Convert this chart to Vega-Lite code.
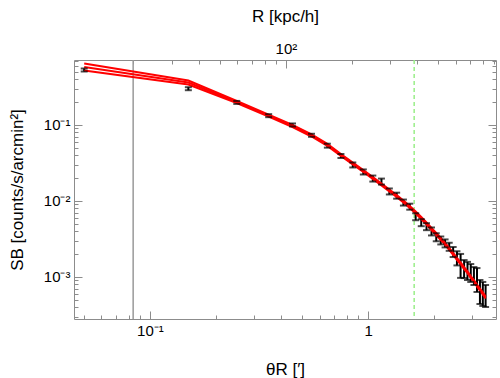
{
  "$schema": "https://vega.github.io/schema/vega-lite/v6.json",
  "width": 422,
  "height": 259,
  "autosize": {"type": "none"},
  "padding": {"left": 74, "top": 60, "right": 4, "bottom": 59},
  "background": "white",
  "config": {
    "view": {"stroke": "#8c8c8c", "strokeWidth": 1},
    "axis": {
      "domain": false,
      "grid": false,
      "tickColor": "#8c8c8c",
      "tickWidth": 1,
      "labelFont": "Liberation Sans",
      "labelFontSize": 15,
      "labelColor": "black",
      "labelOverlap": false,
      "labelFlush": false,
      "titleFont": "Liberation Sans",
      "titleFontSize": 17,
      "titleFontWeight": "normal",
      "titleColor": "black"
    }
  },
  "datasets": {
    "obs": [
      {"t": 0.05, "sb": 0.529, "lo": 0.5055, "hi": 0.5536},
      {"t": 0.15, "sb": 0.300, "lo": 0.2867, "hi": 0.3140},
      {"t": 0.25, "sb": 0.198, "lo": 0.1892, "hi": 0.2072},
      {"t": 0.35, "sb": 0.1326, "lo": 0.1267, "hi": 0.1388},
      {"t": 0.45, "sb": 0.100, "lo": 0.0956, "hi": 0.1047},
      {"t": 0.55, "sb": 0.0732, "lo": 0.0699, "hi": 0.0766},
      {"t": 0.65, "sb": 0.0534, "lo": 0.0503, "hi": 0.0567},
      {"t": 0.75, "sb": 0.0391, "lo": 0.0368, "hi": 0.0415},
      {"t": 0.85, "sb": 0.0298, "lo": 0.0276, "hi": 0.0321},
      {"t": 0.95, "sb": 0.0241, "lo": 0.0223, "hi": 0.0260},
      {"t": 1.05, "sb": 0.0197, "lo": 0.0180, "hi": 0.0216},
      {"t": 1.15, "sb": 0.0180, "lo": 0.01644, "hi": 0.01971},
      {"t": 1.25, "sb": 0.01334, "lo": 0.01218, "hi": 0.01461},
      {"t": 1.35, "sb": 0.01174, "lo": 0.01072, "hi": 0.01286},
      {"t": 1.45, "sb": 0.00953, "lo": 0.00870, "hi": 0.01044},
      {"t": 1.55, "sb": 0.00841, "lo": 0.00768, "hi": 0.00921},
      {"t": 1.65, "sb": 0.00620, "lo": 0.00558, "hi": 0.00689},
      {"t": 1.75, "sb": 0.00518, "lo": 0.00466, "hi": 0.00576},
      {"t": 1.85, "sb": 0.00459, "lo": 0.00413, "hi": 0.00510},
      {"t": 1.95, "sb": 0.00397, "lo": 0.00352, "hi": 0.00448},
      {"t": 2.05, "sb": 0.00333, "lo": 0.00295, "hi": 0.00376},
      {"t": 2.15, "sb": 0.00302, "lo": 0.00268, "hi": 0.00341},
      {"t": 2.25, "sb": 0.00276, "lo": 0.00245, "hi": 0.00312},
      {"t": 2.35, "sb": 0.00250, "lo": 0.00221, "hi": 0.00282},
      {"t": 2.45, "sb": 0.00213, "lo": 0.00183, "hi": 0.00248},
      {"t": 2.55, "sb": 0.00176, "lo": 0.00142, "hi": 0.00218},
      {"t": 2.65, "sb": 0.00140, "lo": 0.000973, "hi": 0.00201},
      {"t": 2.75, "sb": 0.00127, "lo": 0.000967, "hi": 0.00167},
      {"t": 2.85, "sb": 0.00120, "lo": 0.000913, "hi": 0.00158},
      {"t": 2.95, "sb": 0.00113, "lo": 0.000860, "hi": 0.00148},
      {"t": 3.05, "sb": 0.00103, "lo": 0.000784, "hi": 0.00135},
      {"t": 3.15, "sb": 0.000913, "lo": 0.000635, "hi": 0.00131},
      {"t": 3.25, "sb": 0.000635, "lo": 0.000441, "hi": 0.000913},
      {"t": 3.35, "sb": 0.000598, "lo": 0.000416, "hi": 0.000860},
      {"t": 3.45, "sb": 0.000562, "lo": 0.000403, "hi": 0.000784}
    ],
    "model": [
      {"t": 0.05, "sb": 0.645, "m": "a"}, {"t": 0.05, "sb": 0.580, "m": "b"}, {"t": 0.05, "sb": 0.521, "m": "c"},
      {"t": 0.15, "sb": 0.385, "m": "a"}, {"t": 0.15, "sb": 0.362, "m": "b"}, {"t": 0.15, "sb": 0.341, "m": "c"},
      {"t": 0.25, "sb": 0.2069, "m": "a"}, {"t": 0.25, "sb": 0.2007, "m": "b"}, {"t": 0.25, "sb": 0.1947, "m": "c"},
      {"t": 0.35, "sb": 0.1367, "m": "a"}, {"t": 0.35, "sb": 0.1326, "m": "b"}, {"t": 0.35, "sb": 0.1286, "m": "c"},
      {"t": 0.45, "sb": 0.1000, "m": "a"}, {"t": 0.45, "sb": 0.0970, "m": "b"}, {"t": 0.45, "sb": 0.0941, "m": "c"},
      {"t": 0.55, "sb": 0.0750, "m": "a"}, {"t": 0.55, "sb": 0.0727, "m": "b"}, {"t": 0.55, "sb": 0.0705, "m": "c"},
      {"t": 0.65, "sb": 0.0563, "m": "a"}, {"t": 0.65, "sb": 0.0546, "m": "b"}, {"t": 0.65, "sb": 0.0530, "m": "c"},
      {"t": 0.75, "sb": 0.0415, "m": "a"}, {"t": 0.75, "sb": 0.0403, "m": "b"}, {"t": 0.75, "sb": 0.0391, "m": "c"},
      {"t": 0.85, "sb": 0.0321, "m": "a"}, {"t": 0.85, "sb": 0.0311, "m": "b"}, {"t": 0.85, "sb": 0.0302, "m": "c"},
      {"t": 0.95, "sb": 0.0256, "m": "a"}, {"t": 0.95, "sb": 0.0248, "m": "b"}, {"t": 0.95, "sb": 0.0241, "m": "c"},
      {"t": 1.05, "sb": 0.0207, "m": "a"}, {"t": 1.05, "sb": 0.0201, "m": "b"}, {"t": 1.05, "sb": 0.0195, "m": "c"},
      {"t": 1.15, "sb": 0.0170, "m": "a"}, {"t": 1.15, "sb": 0.0165, "m": "b"}, {"t": 1.15, "sb": 0.0160, "m": "c"},
      {"t": 1.25, "sb": 0.01418, "m": "a"}, {"t": 1.25, "sb": 0.01375, "m": "b"}, {"t": 1.25, "sb": 0.01334, "m": "c"},
      {"t": 1.35, "sb": 0.01199, "m": "a"}, {"t": 1.35, "sb": 0.01163, "m": "b"}, {"t": 1.35, "sb": 0.01128, "m": "c"},
      {"t": 1.45, "sb": 0.01015, "m": "a"}, {"t": 1.45, "sb": 0.00985, "m": "b"}, {"t": 1.45, "sb": 0.00955, "m": "c"},
      {"t": 1.55, "sb": 0.00860, "m": "a"}, {"t": 1.55, "sb": 0.00834, "m": "b"}, {"t": 1.55, "sb": 0.00809, "m": "c"},
      {"t": 1.65, "sb": 0.00728, "m": "a"}, {"t": 1.65, "sb": 0.00706, "m": "b"}, {"t": 1.65, "sb": 0.00685, "m": "c"},
      {"t": 1.75, "sb": 0.00617, "m": "a"}, {"t": 1.75, "sb": 0.00598, "m": "b"}, {"t": 1.75, "sb": 0.00580, "m": "c"},
      {"t": 1.85, "sb": 0.00522, "m": "a"}, {"t": 1.85, "sb": 0.00506, "m": "b"}, {"t": 1.85, "sb": 0.00491, "m": "c"},
      {"t": 1.95, "sb": 0.00441, "m": "a"}, {"t": 1.95, "sb": 0.00428, "m": "b"}, {"t": 1.95, "sb": 0.00415, "m": "c"},
      {"t": 2.05, "sb": 0.00379, "m": "a"}, {"t": 2.05, "sb": 0.00368, "m": "b"}, {"t": 2.05, "sb": 0.00357, "m": "c"},
      {"t": 2.15, "sb": 0.00326, "m": "a"}, {"t": 2.15, "sb": 0.00316, "m": "b"}, {"t": 2.15, "sb": 0.00307, "m": "c"},
      {"t": 2.25, "sb": 0.00280, "m": "a"}, {"t": 2.25, "sb": 0.00272, "m": "b"}, {"t": 2.25, "sb": 0.00264, "m": "c"},
      {"t": 2.35, "sb": 0.00241, "m": "a"}, {"t": 2.35, "sb": 0.00234, "m": "b"}, {"t": 2.35, "sb": 0.00227, "m": "c"},
      {"t": 2.45, "sb": 0.00207, "m": "a"}, {"t": 2.45, "sb": 0.00201, "m": "b"}, {"t": 2.45, "sb": 0.00195, "m": "c"},
      {"t": 2.55, "sb": 0.00178, "m": "a"}, {"t": 2.55, "sb": 0.00173, "m": "b"}, {"t": 2.55, "sb": 0.00168, "m": "c"},
      {"t": 2.65, "sb": 0.00156, "m": "a"}, {"t": 2.65, "sb": 0.00151, "m": "b"}, {"t": 2.65, "sb": 0.00146, "m": "c"},
      {"t": 2.75, "sb": 0.00135, "m": "a"}, {"t": 2.75, "sb": 0.00131, "m": "b"}, {"t": 2.75, "sb": 0.00127, "m": "c"},
      {"t": 2.85, "sb": 0.00119, "m": "a"}, {"t": 2.85, "sb": 0.00115, "m": "b"}, {"t": 2.85, "sb": 0.00112, "m": "c"},
      {"t": 2.95, "sb": 0.00103, "m": "a"}, {"t": 2.95, "sb": 0.00100, "m": "b"}, {"t": 2.95, "sb": 0.00097, "m": "c"},
      {"t": 3.05, "sb": 0.000913, "m": "a"}, {"t": 3.05, "sb": 0.000886, "m": "b"}, {"t": 3.05, "sb": 0.000859, "m": "c"},
      {"t": 3.15, "sb": 0.000797, "m": "a"}, {"t": 3.15, "sb": 0.000773, "m": "b"}, {"t": 3.15, "sb": 0.000750, "m": "c"},
      {"t": 3.25, "sb": 0.000706, "m": "a"}, {"t": 3.25, "sb": 0.000685, "m": "b"}, {"t": 3.25, "sb": 0.000664, "m": "c"},
      {"t": 3.35, "sb": 0.000626, "m": "a"}, {"t": 3.35, "sb": 0.000607, "m": "b"}, {"t": 3.35, "sb": 0.000589, "m": "c"},
      {"t": 3.45, "sb": 0.000554, "m": "a"}, {"t": 3.45, "sb": 0.000537, "m": "b"}, {"t": 3.45, "sb": 0.000521, "m": "c"}
    ]
  },
  "layer": [
    {
      "encoding": {
        "x": {
          "type": "quantitative",
          "scale": {"type": "log", "domain": [0.0449, 3.85], "nice": false},
          "axis": {
            "orient": "bottom",
            "title": "θR [′]",
            "values": [0.05, 0.06, 0.07, 0.08, 0.09, 0.1, 0.2, 0.3, 0.4, 0.5, 0.6, 0.7, 0.8, 0.9, 1, 2, 3],
            "labelExpr": "datum.value == 0.1 ? '10⁻¹' : (datum.value == 1 ? '1' : '')",
            "tickSize": {"condition": {"test": "datum.value == 0.1 || datum.value == 1", "value": -8}, "value": -4},
            "labelPadding": 12,
            "titlePadding": 19
          }
        },
        "y": {
          "type": "quantitative",
          "scale": {"type": "log", "domain": [0.00028, 0.716], "nice": false},
          "axis": {
            "orient": "left",
            "title": "SB [counts/s/arcmin²]",
            "values": [0.0003, 0.0004, 0.0005, 0.0006, 0.0007, 0.0008, 0.0009, 0.001, 0.002, 0.003, 0.004, 0.005, 0.006, 0.007, 0.008, 0.009, 0.01, 0.02, 0.03, 0.04, 0.05, 0.06, 0.07, 0.08, 0.09, 0.1, 0.2, 0.3, 0.4, 0.5, 0.6, 0.7],
            "labelExpr": "datum.value == 0.1 ? '10⁻¹' : (datum.value == 0.01 ? '10⁻²' : (datum.value == 0.001 ? '10⁻³' : ''))",
            "tickSize": {"condition": {"test": "datum.value == 0.1 || datum.value == 0.01 || datum.value == 0.001", "value": -8}, "value": -4},
            "labelPadding": 12,
            "titlePadding": 17
          }
        }
      },
      "layer": [
        {
          "data": {"values": [{"t": 0.0838}]},
          "mark": {"type": "rule", "color": "#999999", "strokeWidth": 1.5},
          "encoding": {"x": {"field": "t"}}
        },
        {
          "data": {"values": [{"t": 1.624}]},
          "mark": {"type": "rule", "color": "#99ee88", "strokeWidth": 1.5, "strokeDash": [4, 3]},
          "encoding": {"x": {"field": "t"}}
        },
        {
          "data": {"name": "obs"},
          "mark": {"type": "rule", "color": "black", "strokeWidth": 2},
          "encoding": {"x": {"field": "t"}, "y": {"field": "lo"}, "y2": {"field": "hi"}}
        },
        {
          "data": {"name": "model"},
          "mark": {"type": "line", "color": "red", "strokeWidth": 2},
          "encoding": {"x": {"field": "t"}, "y": {"field": "sb"}, "detail": {"field": "m"}}
        },
        {
          "data": {"name": "obs"},
          "mark": {"type": "tick", "orient": "horizontal", "color": "black", "size": 7, "thickness": 2},
          "encoding": {"x": {"field": "t"}, "y": {"field": "lo"}}
        },
        {
          "data": {"name": "obs"},
          "mark": {"type": "tick", "orient": "horizontal", "color": "black", "size": 7, "thickness": 2},
          "encoding": {"x": {"field": "t"}, "y": {"field": "hi"}}
        }
      ]
    },
    {
      "data": {"values": [{"R": 100, "s": 0.01}]},
      "mark": {"type": "point", "opacity": 0},
      "encoding": {
        "x": {
          "field": "R",
          "type": "quantitative",
          "scale": {"type": "log", "domain": [10.7, 917], "nice": false},
          "axis": {
            "orient": "top",
            "title": "R [kpc/h]",
            "values": [20, 30, 40, 50, 60, 70, 80, 90, 100, 200, 300, 400, 500, 600, 700, 800, 900],
            "labelExpr": "datum.value == 100 ? '10²' : ''",
            "tickSize": {"condition": {"test": "datum.value == 100", "value": -8}, "value": -4},
            "labelPadding": 12,
            "titlePadding": 12
          }
        },
        "y": {
          "field": "s",
          "type": "quantitative",
          "scale": {"type": "log", "domain": [0.00028, 0.716], "nice": false},
          "axis": {
            "orient": "right",
            "title": null,
            "labels": false,
            "values": [0.0003, 0.0004, 0.0005, 0.0006, 0.0007, 0.0008, 0.0009, 0.001, 0.002, 0.003, 0.004, 0.005, 0.006, 0.007, 0.008, 0.009, 0.01, 0.02, 0.03, 0.04, 0.05, 0.06, 0.07, 0.08, 0.09, 0.1, 0.2, 0.3, 0.4, 0.5, 0.6, 0.7],
            "tickSize": {"condition": {"test": "datum.value == 0.1 || datum.value == 0.01 || datum.value == 0.001", "value": -8}, "value": -4}
          }
        }
      }
    }
  ],
  "resolve": {"scale": {"x": "independent", "y": "independent"}, "axis": {"x": "independent", "y": "independent"}}
}
